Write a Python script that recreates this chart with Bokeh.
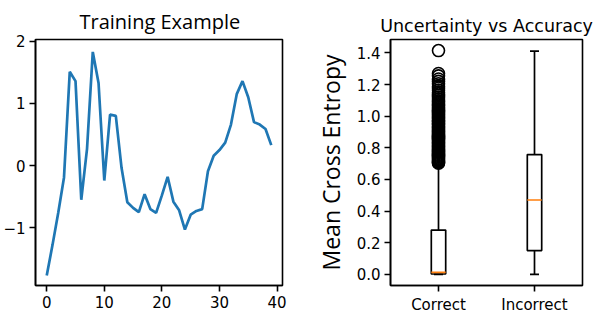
from bokeh.plotting import figure
from bokeh.layouts import row
from bokeh.models import FixedTicker, NumeralTickFormatter, Whisker, TeeHead, ColumnDataSource
from bokeh.embed import file_html
from bokeh.resources import INLINE

# ---------------- data ----------------
train_values = [-1.77, -1.28, -0.76, -0.19, 1.51, 1.36, -0.55, 0.27, 1.83, 1.33,
                -0.24, 0.82, 0.80, -0.04, -0.59, -0.68, -0.75, -0.46, -0.70, -0.76,
                -0.48, -0.18, -0.58, -0.72, -1.03, -0.79, -0.73, -0.70, -0.09, 0.16,
                0.25, 0.37, 0.66, 1.15, 1.36, 1.10, 0.70, 0.66, 0.59, 0.33]
train_xticks = [0, 10, 20, 30, 40]
train_yticks = [-1, 0, 1, 2]

categories = ["Correct", "Incorrect"]
whisker_lo = [0.0, 0.0]
q1 = [0.002, 0.150]
median = [0.012, 0.470]
q3 = [0.280, 0.757]
whisker_hi = [0.690, 1.412]
correct_outliers = [1.415, 1.27, 1.255, 1.235, 1.22, 1.205, 1.19, 1.178, 1.165, 1.152,
                    1.14, 1.131, 1.12, 1.108, 1.097, 1.088, 1.079, 1.071, 1.062, 1.053,
                    1.046, 1.038, 1.031, 1.024, 1.016, 1.009, 1.002, 0.995, 0.989, 0.982,
                    0.975, 0.969, 0.962, 0.956, 0.95, 0.944, 0.937, 0.931, 0.925, 0.919,
                    0.913, 0.907, 0.901, 0.895, 0.889, 0.883, 0.877, 0.871, 0.866, 0.86,
                    0.854, 0.848, 0.842, 0.836, 0.83, 0.824, 0.818, 0.812, 0.806, 0.8,
                    0.794, 0.788, 0.782, 0.776, 0.77, 0.764, 0.758, 0.752, 0.746, 0.74,
                    0.735, 0.729, 0.723, 0.718, 0.712, 0.707, 0.702]
box_yticks = [0.0, 0.2, 0.4, 0.6, 0.8, 1.0, 1.2, 1.4]

BLUE = "#1f77b4"
ORANGE = "#ff7f0e"
TICK_FONT = "DejaVu Sans"
TICK_SIZE = "15px"
LABEL_FONT = "Open Sans"


def style_axes(p):
    p.grid.visible = False
    p.outline_line_color = "black"
    p.outline_line_width = 1.6
    p.background_fill_color = "white"
    p.border_fill_color = "white"
    for ax in p.axis:
        ax.axis_line_color = "black"
        ax.axis_line_width = 1.6
        ax.major_tick_out = 6
        ax.major_tick_in = 0
        ax.major_tick_line_width = 1.6
        ax.minor_tick_out = 0
        ax.minor_tick_in = 0
        ax.major_label_text_font = TICK_FONT
        ax.major_label_text_font_size = TICK_SIZE
        ax.major_label_text_color = "black"
        ax.major_label_standoff = 4


# ---------------- left: training example ----------------
xs = list(range(len(train_values)))
p1 = figure(width=297, height=316, x_range=(-1.95, 40.95), y_range=(-1.93, 2.03),
            output_backend="svg", toolbar_location=None,
            min_border_left=25, min_border_right=15, min_border_top=32, min_border_bottom=31)
p1.line(xs, train_values, line_color=BLUE, line_width=2.7)
style_axes(p1)
p1.xaxis.ticker = FixedTicker(ticks=train_xticks)
p1.yaxis.ticker = FixedTicker(ticks=train_yticks)
p1.yaxis.major_label_overrides = {t: (str(t) if t >= 0 else "\u2212" + str(-t)) for t in train_yticks}
p1.title.text = "Training Example"
p1.title.text_font = LABEL_FONT
p1.title.text_font_size = "20px"
p1.title.text_font_style = "normal"
p1.title.align = "left"
p1.title.offset = 44
p1.title.standoff = 10
p1.title.text_color = "black"

# ---------------- right: boxplot ----------------
pos = [i + 1 for i in range(len(categories))]
p2 = figure(width=297, height=316, x_range=(0.5, 2.5), y_range=(-0.0707, 1.485),
            output_backend="svg", toolbar_location=None,
            min_border_left=93, min_border_right=12, min_border_top=29, min_border_bottom=30)
style_axes(p2)

src = ColumnDataSource(dict(x=pos, lo=whisker_lo, q1=q1, med=median, q3=q3, hi=whisker_hi))
p2.add_layout(Whisker(source=src, base="x", lower="q3", upper="hi", dimension="height",
                      line_color="black", line_width=1.7,
                      upper_head=TeeHead(size=9, line_color="black", line_width=1.7),
                      lower_head=None))
p2.add_layout(Whisker(source=src, base="x", lower="lo", upper="q1", dimension="height",
                      line_color="black", line_width=1.7,
                      lower_head=TeeHead(size=9, line_color="black", line_width=1.7),
                      upper_head=None))
p2.vbar(x="x", bottom="q1", top="q3", width=0.15, source=src,
        fill_color=None, line_color="black", line_width=1.7)
p2.vbar(x="x", bottom="med", top="med", width=0.15, source=src,
        fill_color=None, line_color=ORANGE, line_width=1.7)
p2.scatter([pos[0]] * len(correct_outliers), correct_outliers, marker="circle", size=12,
           fill_color=None, line_color="black", line_width=1.6)

p2.xaxis.ticker = FixedTicker(ticks=pos)
p2.xaxis.major_label_overrides = {x: c for x, c in zip(pos, categories)}
p2.yaxis.ticker = FixedTicker(ticks=box_yticks)
p2.yaxis.formatter = NumeralTickFormatter(format="0.0")
p2.yaxis.axis_label = "Mean Cross Entropy"
p2.yaxis.axis_label_text_font = LABEL_FONT
p2.yaxis.axis_label_text_font_size = "23px"
p2.yaxis.axis_label_text_font_style = "normal"
p2.yaxis.axis_label_text_color = "black"
p2.yaxis.axis_label_standoff = 7
p2.title.text = "Uncertainty vs Accuracy"
p2.title.text_font = TICK_FONT
p2.title.text_font_size = "17.5px"
p2.title.text_font_style = "normal"
p2.title.align = "center"
p2.title.standoff = 7
p2.title.text_color = "black"

layout = row(p1, p2)
open("out.html", "w").write(file_html(layout, INLINE))
